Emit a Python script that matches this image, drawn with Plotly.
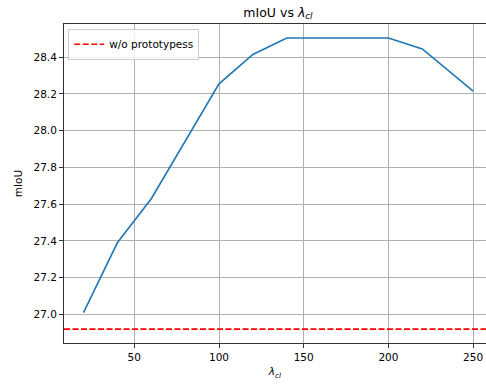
import plotly.graph_objects as go

lambdas = [20, 40, 60, 100, 120, 140, 200, 220, 250]
miou = [27.01, 27.39, 27.63, 28.255, 28.415, 28.505, 28.505, 28.445, 28.215]
baseline = 26.92
baseline_name = "w/o prototypess"
x_ticks = [50, 100, 150, 200, 250]
y_ticks = [27.0, 27.2, 27.4, 27.6, 27.8, 28.0, 28.2, 28.4]

FONT = "DejaVu Sans"

fig = go.Figure()
fig.add_trace(go.Scatter(
    x=lambdas, y=miou, mode="lines",
    line=dict(color="#1f77b4", width=1.6),
    showlegend=False, hoverinfo="x+y"))

fig.add_shape(type="line", xref="x domain", x0=0, x1=1, yref="y",
              y0=baseline, y1=baseline,
              line=dict(color="red", width=1.6, dash="6px,2.5px"),
              showlegend=True, name=baseline_name)

axis_common = dict(
    showgrid=True, gridcolor="#b0b0b0", gridwidth=0.8,
    showline=True, linecolor="#333333", linewidth=1,
    ticks="outside", ticklen=4, tickwidth=0.8, tickcolor="#333333",
    tickfont=dict(family=FONT, size=10.5, color="black"),
    zeroline=False, automargin=False,
)

fig.update_layout(
    width=486, height=386,
    margin=dict(l=64, r=0, t=24, b=43),
    paper_bgcolor="white", plot_bgcolor="white",
    font=dict(family=FONT, color="black"),
    title=dict(text="mIoU vs <i>λ</i><sub><i>cl</i></sub>",
               x=0.507, xref="paper", xanchor="center",
               y=0.968, yref="container", yanchor="middle",
               font=dict(family=FONT, size=12.5, color="black")),
    xaxis=dict(range=[8.5, 257.6], tickvals=x_ticks,
               title=dict(text="<i>λ</i><sub><i>cl</i></sub>", standoff=6,
                          font=dict(family=FONT, size=10.5)),
               mirror=True, **axis_common),
    yaxis=dict(range=[26.8445, 28.581], tickvals=y_ticks,
               tickformat=".1f",
               title=dict(text="mIoU", standoff=8,
                          font=dict(family=FONT, size=10.5)),
               mirror=False, **axis_common),
    legend=dict(x=0.01, y=0.985, xanchor="left", yanchor="top",
                bgcolor="rgba(255,255,255,0.8)", bordercolor="#cccccc",
                borderwidth=1, font=dict(family=FONT, size=10.5)),
)

fig.write_html("out.html",
               config={"displayModeBar": False},
               post_script="document.body.style.margin='0';document.body.style.overflow='hidden';")
